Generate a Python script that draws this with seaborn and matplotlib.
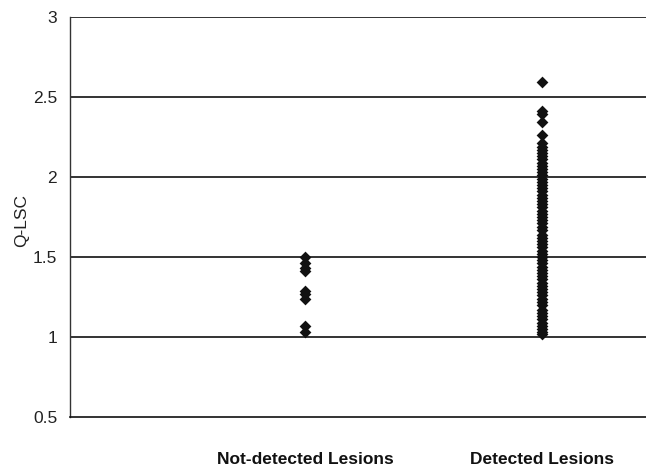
import matplotlib
matplotlib.use("Agg")
import matplotlib.pyplot as plt
import seaborn as sns
import pandas as pd

categories = ["Not-detected Lesions", "Detected Lesions"]

not_detected = [1.50, 1.46, 1.43, 1.41, 1.29, 1.27, 1.24, 1.07, 1.03]

detected = [2.59, 2.41, 2.39, 2.34, 2.26, 2.21, 2.19, 2.17, 2.15, 2.13, 2.11,
            2.09, 2.07, 2.05, 2.03, 2.01, 1.99, 1.97, 1.95, 1.93, 1.91, 1.89,
            1.87, 1.85, 1.83, 1.81, 1.79, 1.77, 1.75, 1.73, 1.71, 1.69, 1.67,
            1.64, 1.62, 1.60, 1.58, 1.56, 1.54, 1.52, 1.50, 1.48, 1.46, 1.44,
            1.42, 1.40, 1.38, 1.36, 1.34, 1.32, 1.30, 1.28, 1.26, 1.24, 1.22,
            1.20, 1.17, 1.15, 1.13, 1.11, 1.09, 1.07, 1.05, 1.03, 1.02]

y_ticks = [0.5, 1, 1.5, 2, 2.5, 3]
y_tick_labels = ["0.5", "1", "1.5", "2", "2.5", "3"]

df = pd.DataFrame({
    "group": [categories[0]] * len(not_detected) + [categories[1]] * len(detected),
    "value": not_detected + detected,
})

sns.set_theme(style="white")
plt.rcParams["font.family"] = ["Liberation Sans", "DejaVu Sans"]

fig = plt.figure(figsize=(6.46, 4.69), dpi=100)
ax = fig.add_axes([0.109, 0.111, 0.891, 0.853])

for yv in y_ticks[1:]:
    ax.axhline(yv, color="#111111", lw=1.2, zorder=1)

sns.stripplot(data=df, x="group", y="value", order=categories, jitter=False,
              marker="D", size=6, color="#111111", linewidth=0, ax=ax, zorder=3)

ax.set_ylim(0.5, 3)
ax.set_xlim(-0.99, 1.44)
ax.set_yticks(y_ticks)
ax.set_yticklabels(y_tick_labels, fontsize=12.5, color="#222222")
ax.tick_params(axis="y", direction="out", length=0, pad=9.5, left=True)
ax.tick_params(axis="x", length=0, pad=25.5)
ax.set_xticks([0, 1])
ax.set_xticklabels(categories, fontsize=12.5, fontweight="bold", color="#111111")
ax.set_xlabel("")
ax.set_ylabel("Q-LSC", fontsize=12.5, color="#222222")
ax.yaxis.set_label_coords(-0.071, 0.49)

for s in ["top", "right"]:
    ax.spines[s].set_visible(False)
ax.spines["left"].set_color("#333333")
ax.spines["left"].set_linewidth(1)
ax.spines["bottom"].set_color("#111111")
ax.spines["bottom"].set_linewidth(1.2)

fig.savefig("out.png", dpi=100)
